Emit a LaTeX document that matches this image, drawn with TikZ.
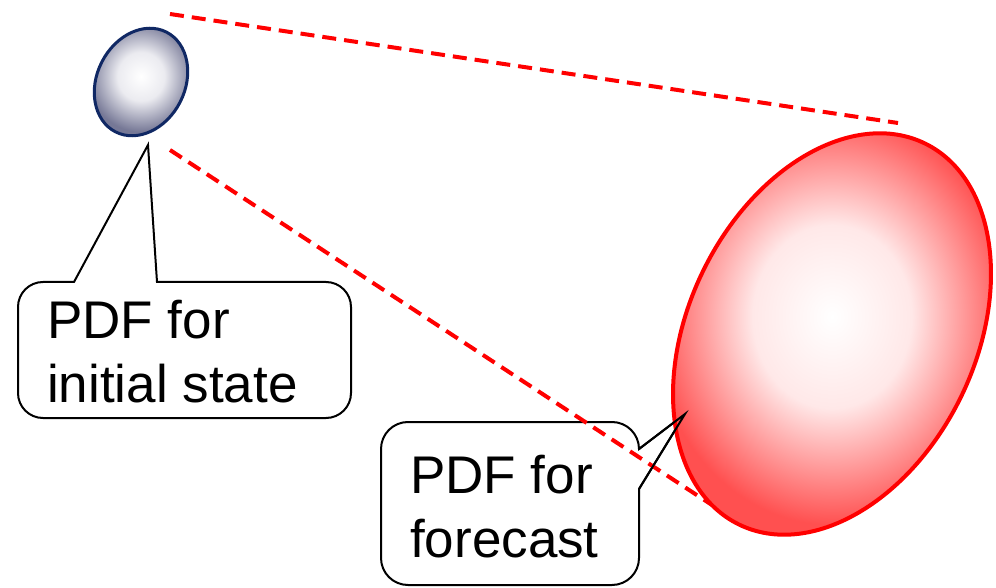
\documentclass[tikz,border=0pt]{standalone}
\usepackage{fontspec}
\setmainfont{Liberation Sans}
\usetikzlibrary{shapes.geometric}
\definecolor{navy}{RGB}{16,40,100}
\definecolor{greyblue}{RGB}{118,120,150}
\definecolor{greyblueL}{RGB}{235,235,240}
\definecolor{softred}{RGB}{255,80,80}
\definecolor{softredL}{RGB}{255,232,232}
\pgfdeclareradialshading{greyglow}{\pgfpoint{0bp}{0bp}}{%
  rgb(0bp)=(1,1,1); color(11bp)=(greyblueL); color(25bp)=(greyblue); color(50bp)=(greyblue)}
\pgfdeclareradialshading{redglow}{\pgfpoint{0bp}{0bp}}{%
  rgb(0bp)=(1,1,1); color(11bp)=(softredL); color(25bp)=(softred); color(50bp)=(softred)}
\tikzset{
  guide/.style={draw=red, line width=4pt, dash pattern=on 14pt off 8pt},
  callbox/.style={draw=black, line width=2pt, fill=white, line join=miter},
  tailline/.style={draw=black, line width=2pt},
  calltext/.style={inner sep=0pt, anchor=base west, align=left, font=\fontsize{53}{64}\selectfont},
}
\begin{document}
\begin{tikzpicture}[x=1pt,y=1pt]
\useasboundingbox (0,0) rectangle (996,587);
% callout 1
\draw[callbox] (74,305) -- (148,442) -- (157,305) -- (326,305)
  arc[start angle=90,end angle=0,radius=25] -- (351,194)
  arc[start angle=0,end angle=-90,radius=25] -- (43,169)
  arc[start angle=270,end angle=180,radius=25] -- (18,280)
  arc[start angle=180,end angle=90,radius=25] -- cycle;
\node[calltext] (t1) at (47,185) {PDF for\\initial state};
% callout 2
\draw[callbox] (408,165) -- (612,165)
  arc[start angle=90,end angle=0,radius=27] -- (685,173) -- (639,98) -- (639,29)
  arc[start angle=0,end angle=-90,radius=27] -- (408,2)
  arc[start angle=270,end angle=180,radius=27] -- (381,138)
  arc[start angle=180,end angle=90,radius=27] -- cycle;
\node[calltext] (t2) at (410,30) {PDF for\\forecast};
% dashed guide lines
\coordinate (a1) at (170,573);
\coordinate (a2) at (898,464);
\coordinate (b1) at (170,437);
\coordinate (b2) at (712,82);
\draw[guide] (a1) -- (a2);
\draw[guide] (b1) -- (b2);
% ellipses
\node[ellipse, inner sep=0pt, minimum width=88pt, minimum height=112pt, rotate=-27,
      draw=navy, line width=3pt, shading=greyglow] (init) at (141,505) {};
\node[ellipse, inner sep=0pt, minimum width=287pt, minimum height=424pt, rotate=-26,
      draw=red, line width=4pt, shading=redglow] (fcst) at (832,253) {};
% tail of callout 2 over the ellipse
\coordinate (tip2) at (685,173);
\draw[tailline] (639,138) -- (tip2) -- (639,98);
\end{tikzpicture}
\end{document}
